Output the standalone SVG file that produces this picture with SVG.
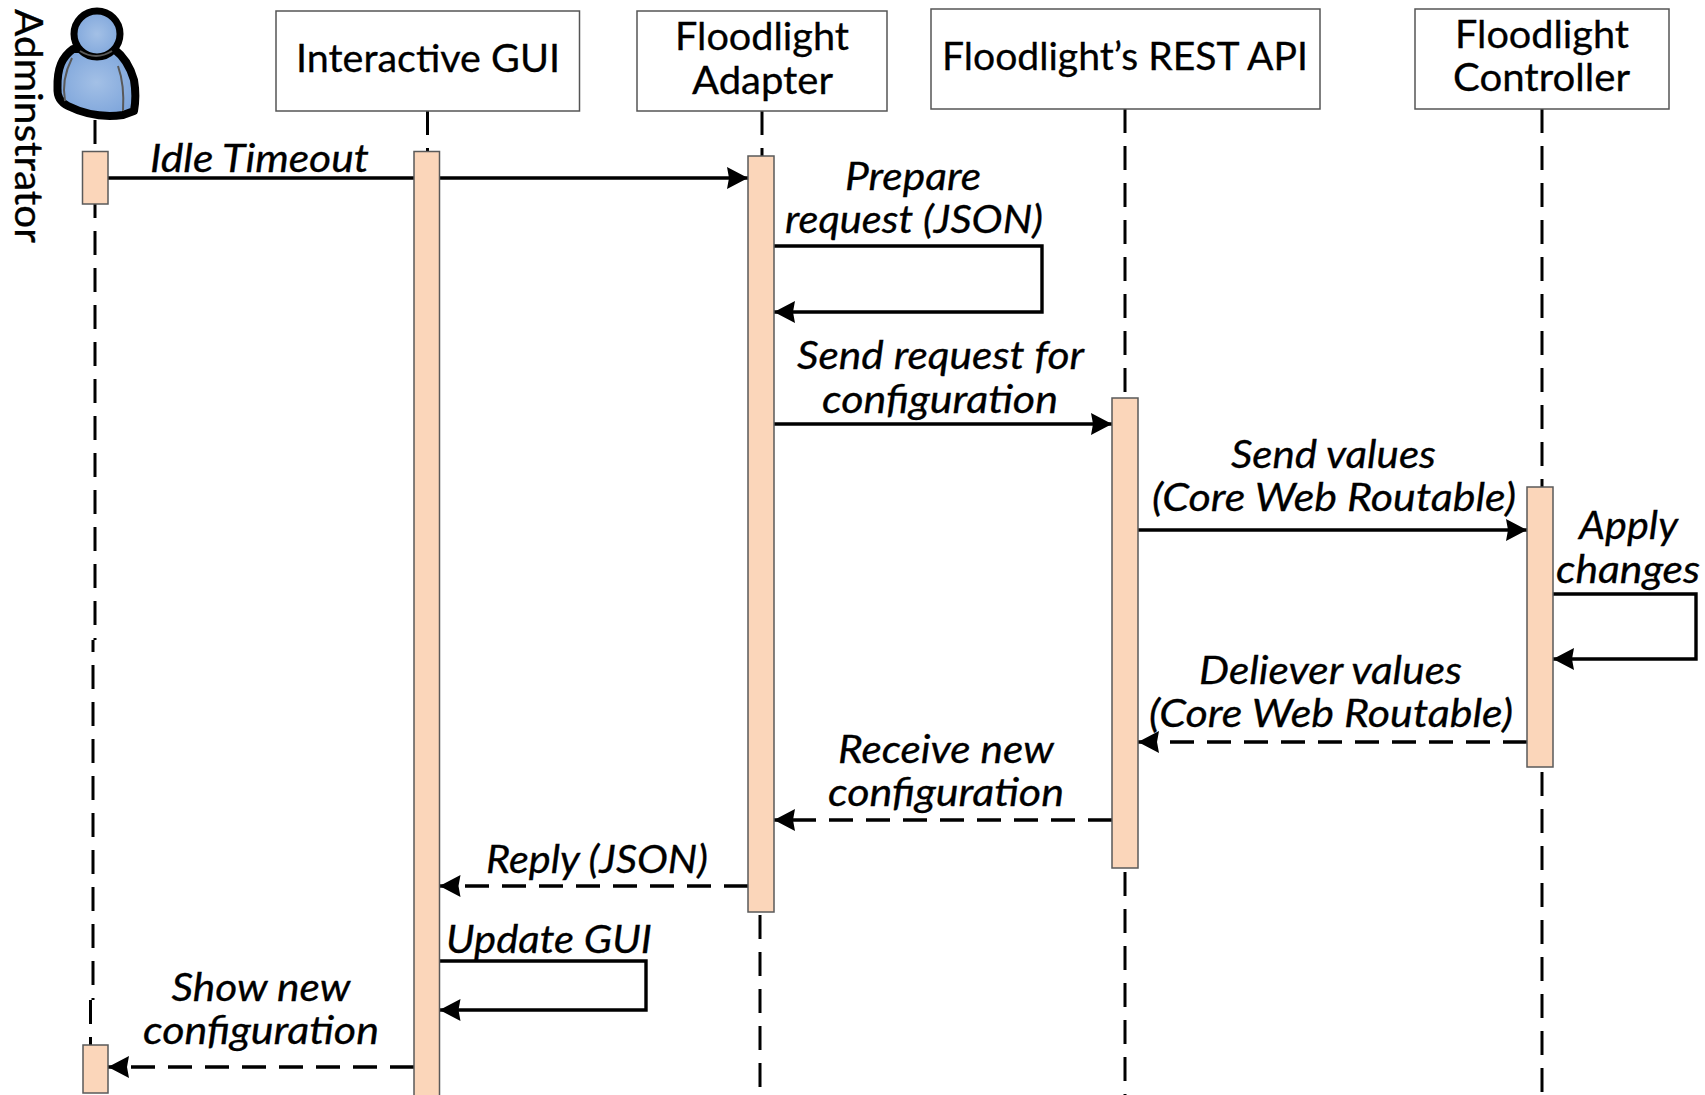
<svg xmlns="http://www.w3.org/2000/svg" width="1705" height="1095" viewBox="0 0 1705 1095">
<style>
.box{fill:#fff;stroke:#555;stroke-width:1.5}
.bar{fill:#fbd6ba;stroke:#5a5a5a;stroke-width:1.5}
.t{font-family:Lato,"Liberation Sans",sans-serif;font-size:38.5px;fill:#000;stroke:#000;stroke-width:.3}
.i{font-style:italic}
.life{fill:none;stroke:#000;stroke-width:3;stroke-dasharray:24 13}
.msg{fill:none;stroke:#000;stroke-width:3.400;marker-end:url(#arrow)}
.dash{stroke-dasharray:24 13}
</style>
<defs>
<marker id="arrow" markerUnits="userSpaceOnUse" markerWidth="21" markerHeight="24" refX="21" refY="12" orient="auto">
<path d="M0,1 L21,12 L0,23 L2,12 Z" fill="#000"/>
</marker>
<radialGradient id="blue" cx="50%" cy="50%" r="60%">
<stop offset="0" stop-color="#a3c0e6"/>
<stop offset="1" stop-color="#7ba3da"/>
</radialGradient>
</defs>
<rect width="1705" height="1095" fill="#fff"/>
<g id="lifelines">
<path class="life" d="M95,120 V640"/>
<path class="life" d="M93,640 V1000" stroke-dashoffset="12"/>
<path class="life" d="M90.500,1000 V1045"/>
<path class="life" d="M427.500,111 V152"/>
<path class="life" d="M762,111 V156"/>
<path class="life" d="M760,915 V1095"/>
<path class="life" d="M1125,109 V398"/>
<path class="life" d="M1125,872 V1095"/>
<path class="life" d="M1542,109 V487"/>
<path class="life" d="M1542,772 V1095"/>
</g>
<g id="connectors">
<path class="msg" d="M108,178 H748"/>
<path class="msg" d="M774,246 H1042 V312 H774"/>
<path class="msg" d="M774,424 H1112"/>
<path class="msg" d="M1138,530 H1527"/>
<path class="msg" d="M1553,594 H1696 V659 H1553"/>
<path class="msg dash" d="M1527,742 H1138"/>
<path class="msg dash" d="M1112,820 H774"/>
<path class="msg dash" d="M748,886 H439.500"/>
<path class="msg" d="M439.500,961 H646 V1010 H439.500"/>
<path class="msg dash" d="M414,1067 H108"/>
</g>
<g id="administrator">
<path d="M73,49 C62,57 57,68 57.500,88 C57,97 60,102 68,106 C80,112 100,118 123,115 L134,111 C136,100 136,92 134,80 C130,66 122,55 114,49 Z" fill="url(#blue)" stroke="#000" stroke-width="8" stroke-linejoin="round"/>
<circle cx="97" cy="34" r="23" fill="url(#blue)" stroke="#000" stroke-width="7"/>
<path d="M80,51 Q96,61 112,51" fill="none" stroke="#595959" stroke-width="2"/>
<path d="M72,58 C65,72 62,85 65,101 M118,66 C123,80 124,95 123,111" fill="none" stroke="#595959" stroke-width="2"/>
<rect class="bar" x="82.500" y="151.500" width="25.500" height="52.500"/>
<rect class="bar" x="83" y="1045" width="25" height="48"/>
<text class="t" transform="translate(15,9) rotate(90)" textLength="234" lengthAdjust="spacingAndGlyphs">Adminstrator</text>
</g>
<g id="gui">
<rect class="box" x="276" y="11" width="303.500" height="100"/>
<text class="t" x="296" y="72" textLength="264" lengthAdjust="spacingAndGlyphs">Interactive GUI</text>
<rect class="bar" x="414" y="151.500" width="25.500" height="950"/>
</g>
<g id="adapter">
<rect class="box" x="637" y="11" width="250" height="100"/>
<text class="t" x="675" y="50" textLength="174" lengthAdjust="spacingAndGlyphs">Floodlight</text>
<text class="t" x="692" y="94" textLength="141" lengthAdjust="spacingAndGlyphs">Adapter</text>
<rect class="bar" x="748" y="156" width="26" height="756"/>
</g>
<g id="rest">
<rect class="box" x="931" y="9" width="389" height="100"/>
<text class="t" x="942" y="70" textLength="366" lengthAdjust="spacingAndGlyphs">Floodlight’s REST API</text>
<rect class="bar" x="1112" y="398" width="26" height="470"/>
</g>
<g id="controller">
<rect class="box" x="1415" y="9" width="254" height="100"/>
<text class="t" x="1455" y="48" textLength="174" lengthAdjust="spacingAndGlyphs">Floodlight</text>
<text class="t" x="1453" y="91" textLength="177" lengthAdjust="spacingAndGlyphs">Controller</text>
<rect class="bar" x="1527" y="487" width="26" height="280"/>
</g>
<g id="labels">
<text class="t i" x="150" y="172" textLength="219" lengthAdjust="spacingAndGlyphs">Idle Timeout</text>
<text class="t i" x="845" y="189.500" textLength="136" lengthAdjust="spacingAndGlyphs">Prepare</text>
<text class="t i" x="785" y="233" textLength="258" lengthAdjust="spacingAndGlyphs">request (JSON)</text>
<text class="t i" x="797" y="369" textLength="287" lengthAdjust="spacingAndGlyphs">Send request for</text>
<text class="t i" x="822" y="413" textLength="236" lengthAdjust="spacingAndGlyphs">configuration</text>
<text class="t i" x="1231" y="468" textLength="205" lengthAdjust="spacingAndGlyphs">Send values</text>
<text class="t i" x="1152" y="511" textLength="364" lengthAdjust="spacingAndGlyphs">(Core Web Routable)</text>
<text class="t i" x="1579" y="539" textLength="99" lengthAdjust="spacingAndGlyphs">Apply</text>
<text class="t i" x="1556" y="583" textLength="144" lengthAdjust="spacingAndGlyphs">changes</text>
<text class="t i" x="1199" y="684" textLength="263" lengthAdjust="spacingAndGlyphs">Deliever values</text>
<text class="t i" x="1149" y="727" textLength="364" lengthAdjust="spacingAndGlyphs">(Core Web Routable)</text>
<text class="t i" x="838" y="763" textLength="216" lengthAdjust="spacingAndGlyphs">Receive new</text>
<text class="t i" x="828" y="806" textLength="236" lengthAdjust="spacingAndGlyphs">configuration</text>
<text class="t i" x="486" y="873" textLength="222" lengthAdjust="spacingAndGlyphs">Reply (JSON)</text>
<text class="t i" x="446" y="953" textLength="206" lengthAdjust="spacingAndGlyphs">Update GUI</text>
<text class="t i" x="171.500" y="1001" textLength="179" lengthAdjust="spacingAndGlyphs">Show new</text>
<text class="t i" x="143" y="1044" textLength="236" lengthAdjust="spacingAndGlyphs">configuration</text>
</g>
</svg>
